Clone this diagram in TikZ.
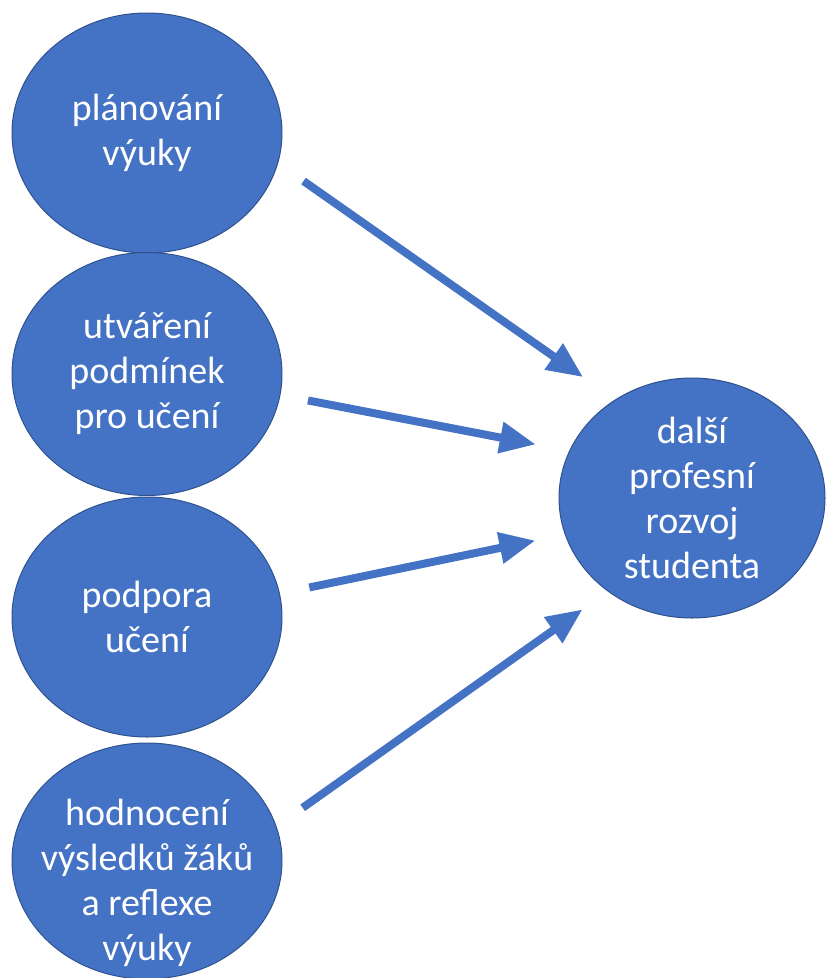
\documentclass[tikz,border=0pt]{standalone}
\usepackage{fontspec}
\setmainfont{Carlito}
\usetikzlibrary{arrows.meta,shapes.geometric}
\newlength{\du}
\setlength{\du}{1pt}
\definecolor{bubblefill}{RGB}{68,114,196}
\definecolor{bubbleline}{RGB}{47,82,143}

\begin{document}
\begin{tikzpicture}[
  bubble/.style={ellipse, fill=bubblefill, draw=bubbleline, line width=1\du,
    minimum width=270\du, minimum height=240\du, inner sep=0pt},
  bubbletext/.style={text=white, align=center, font=\fontsize{38}{45}\selectfont},
  flow/.style={draw=bubblefill, line width=8\du, -{Triangle[length=36pt,width=30pt]}}
]
\pgftransformxscale{1.000000}
\pgftransformyscale{-1.000000}
\useasboundingbox (0\du,0\du) rectangle (826\du,978\du);
% left column
\node[bubble, bubbletext] (planovani) at (147\du,133\du) {plánování\\výuky};
\node[bubble, bubbletext, minimum height=243\du] (podminky) at (147\du,374\du) {utváření\\podmínek\\pro učení};
\node[bubble, bubbletext] (podpora) at (147\du,617\du) {podpora\\učení};
\node[bubble, minimum height=236\du] (hodnoceni) at (147\du,861\du) {};
\node[bubbletext] (hodnocenitext) at (147\du,883\du) {hodnocení\\výsledků žáků\\a reflexe\\výuky};
% right
\node[bubble, bubbletext, minimum width=266\du] (rozvoj) at (692\du,498\du) {další\\profesní\\rozvoj\\studenta};
% arrows
\draw[flow, shorten <=31\du, shorten >=39\du] (planovani.-13.4) -- (rozvoj.128.25);
\draw[flow, shorten <=28\du, shorten >=34\du] (podminky.-9.8) -- (rozvoj.159.2);
\draw[flow, shorten <=30\du, shorten >=30\du] (podpora.10.8) -- (rozvoj.-164.1);
\draw[flow, shorten <=32\du, shorten >=31\du] (hodnoceni.15.4) -- (rozvoj.-132.5);
\end{tikzpicture}
\end{document}
